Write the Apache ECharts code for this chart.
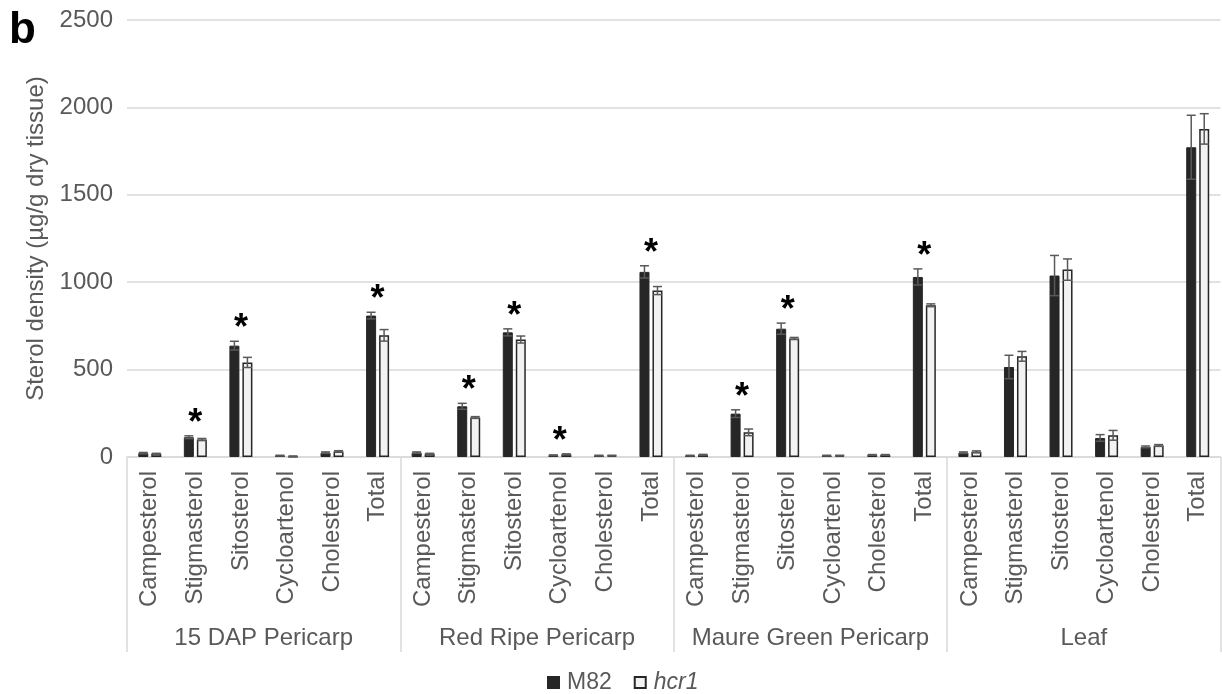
<!DOCTYPE html>
<html>
<head>
<meta charset="utf-8">
<script src="https://cdn.jsdelivr.net/npm/echarts@6/dist/echarts.min.js"></script>
<style>html,body{margin:0;padding:0;background:#fff;}#c{width:1222px;height:694px;}</style>
</head>
<body>
<div id="c"></div>
<script>
const sterols = ['Campesterol','Stigmasterol','Sitosterol','Cycloartenol','Cholesterol','Total'];
const groups = ['15 DAP Pericarp','Red Ripe Pericarp','Maure Green Pericarp','Leaf'];
const yTicks = [0, 500, 1000, 1500, 2000, 2500];
const m82 =     [22, 113, 637, 8, 25, 809,   25, 290, 713, 10, 8, 1059,   8, 248, 734, 8, 12, 1030,   25, 515, 1038, 109, 58, 1772];
const m82Err =  [4,   8,  25, 2, 4,  19,    4,  17,  20,  2, 2,   35,   2,  22,  32, 2,  2,   46,    4,  67,  115,  19,  5,  183];
const hcr1 =    [18, 100, 541, 4, 32, 696,  18, 226, 672, 15, 8,  952,  12, 141, 678, 8, 12,  868,   30, 576, 1072, 124, 66, 1877];
const hcr1Err = [3,   6,  29, 2, 4,  33,    3,   5,  20,  3, 2,   23,   3,  19,   6, 2,  2,    8,    5,  28,   61,  28,  5,   87];
const sig =     [0, 1, 1, 0, 0, 1,   0, 1, 1, 1, 0, 1,   0, 1, 1, 0, 0, 1,   0, 0, 0, 0, 0, 0];

const categories = [];
groups.forEach(() => sterols.forEach(s => categories.push(s)));

const FONT = "'Liberation Sans', Arial, sans-serif";
const GREY = '#595959';
const BAR_W = 10;
const BAR_GAP = 3;
const OFF = (BAR_W + BAR_GAP) / 2;

function errRender(sign) {
  return function (params, api) {
    const i = api.value(0), v = api.value(1), e = api.value(2);
    const top = api.coord([i, v + e]);
    const bot = api.coord([i, Math.max(0, v - e)]);
    const x = top[0] + sign * OFF;
    const cap = 4.5;
    const st = { stroke: GREY, lineWidth: 1.5 };
    return {
      type: 'group',
      children: [
        { type: 'line', shape: { x1: x, y1: top[1], x2: x, y2: bot[1] }, style: st },
        { type: 'line', shape: { x1: x - cap, y1: top[1], x2: x + cap, y2: top[1] }, style: st },
        { type: 'line', shape: { x1: x - cap, y1: bot[1], x2: x + cap, y2: bot[1] }, style: st }
      ]
    };
  };
}

const errM82 = m82.map((v, i) => [i, v, m82Err[i]]);
const errHcr = hcr1.map((v, i) => [i, v, hcr1Err[i]]);
const starData = [];
sig.forEach((s, i) => { if (s) starData.push([i, Math.max(m82[i] + m82Err[i], hcr1[i] + hcr1Err[i])]); });

const chart = echarts.init(document.getElementById('c'), null, { renderer: 'canvas' });
chart.setOption({
  animation: false,
  backgroundColor: '#fff',
  textStyle: { fontFamily: FONT },
  graphic: [{
    type: 'text', left: 9, top: 9,
    style: { text: 'b', font: "bold 44px " + FONT, fill: '#000' }
  }],
  legend: {
    left: 542, top: 666, icon: 'rect',
    itemWidth: 11, itemHeight: 11, itemGap: 22,
    data: ['M82', 'hcr1'],
    formatter: n => n === 'hcr1' ? '{i|hcr1}' : n,
    textStyle: {
      fontSize: 23, color: GREY, fontFamily: FONT, padding: [0, 0, 0, 3],
      rich: { i: { fontStyle: 'italic', fontSize: 23, color: GREY, fontFamily: FONT } }
    }
  },
  grid: { left: 127, right: 1.5, top: 20, bottom: 237, containLabel: false },
  xAxis: [{
    type: 'category', data: categories, position: 'bottom',
    axisLine: { show: true, lineStyle: { color: '#d9d9d9', width: 1.5 } },
    axisTick: { show: false },
    axisLabel: { rotate: 90, interval: 0, margin: 14, fontSize: 24, color: GREY, fontFamily: FONT }
  }, {
    type: 'category', data: groups, position: 'bottom', gridIndex: 0,
    axisLine: { show: false },
    axisTick: { show: true, interval: 0, length: 195, lineStyle: { color: '#d9d9d9', width: 1.5 } },
    axisLabel: { interval: 0, margin: 169, fontSize: 24, color: GREY, fontFamily: FONT }
  }],
  yAxis: {
    type: 'value', min: yTicks[0], max: yTicks[yTicks.length - 1], interval: 500,
    name: 'Sterol density (µg/g dry tissue)', nameLocation: 'middle', nameGap: 76,
    nameTextStyle: { fontSize: 24, color: GREY, fontFamily: FONT },
    axisLine: { show: false }, axisTick: { show: false },
    axisLabel: { fontSize: 24, color: GREY, margin: 14, fontFamily: FONT, formatter: v => String(v) },
    splitLine: { lineStyle: { color: '#d9d9d9', width: 1.5 } }
  },
  series: [{
    name: 'M82', type: 'bar', data: m82, barWidth: BAR_W, barGap: (BAR_GAP / BAR_W * 100) + '%',
    itemStyle: { color: '#262626', borderColor: '#262626', borderWidth: 1 }
  }, {
    name: 'hcr1', type: 'bar', data: hcr1, barWidth: BAR_W,
    itemStyle: { color: '#f2f2f2', borderColor: '#262626', borderWidth: 1.5 }
  }, {
    type: 'custom', name: 'errM82', data: errM82, renderItem: errRender(-1), z: 5,
    encode: { x: 0, y: 1 }, silent: true
  }, {
    type: 'custom', name: 'errHcr', data: errHcr, renderItem: errRender(1), z: 5,
    encode: { x: 0, y: 1 }, silent: true
  }, {
    type: 'custom', name: 'stars', data: starData, z: 6, silent: true,
    encode: { x: 0, y: 1 },
    renderItem: function (params, api) {
      const p = api.coord([api.value(0), api.value(1)]);
      return {
        type: 'text',
        style: { text: '*', x: p[0], y: p[1] - 21 + 9, font: "bold 36px " + FONT, fill: '#000', align: 'center', verticalAlign: 'middle' }
      };
    }
  }]
});
</script>
</body>
</html>
